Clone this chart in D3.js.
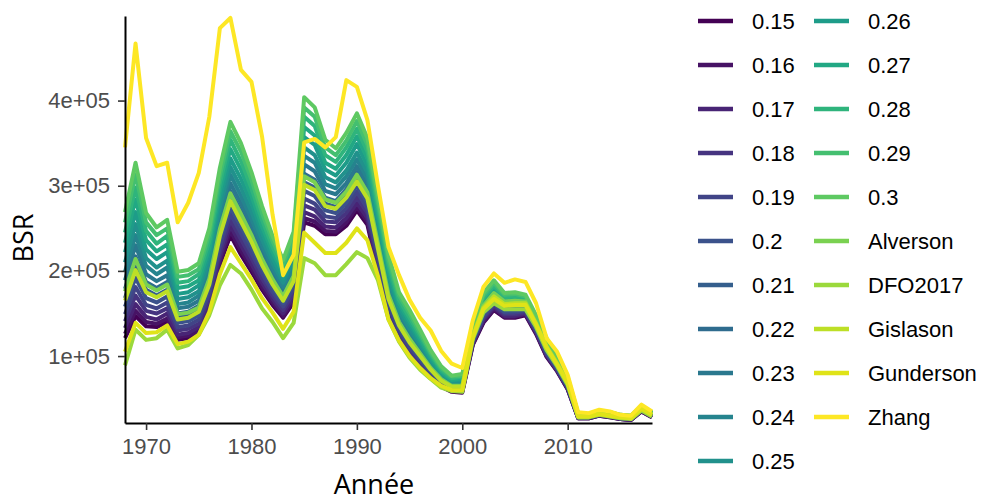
<!DOCTYPE html>
<html>
<head>
<meta charset="utf-8">
<script src="https://cdn.jsdelivr.net/npm/d3@7"></script>
<style>
  body { margin: 0; background: #fff; }
  svg text { font-family: "Liberation Sans", Arial, sans-serif; }
  .title { font-family: "Open Sans", sans-serif !important; }
</style>
</head>
<body>
<div id="chart"></div>
<script>
var years = d3.range(1968, 2019);

// BSR, in thousands, one array per M value (1968 .. 2018)
var m015 = [121,147,135,134,140,119,121,127,156,207, 242,219,199,178,160,145,163,257,253,243, 243,253,271,254,199,145,119,100,86,74, 64,58,57,113,139,154,145,145,148,126, 99,82,61,27,27,30,28,26,25,35, 28];
var m016 = [126,153,140,138,144,122,124,130,159,211, 247,224,203,181,163,147,166,262,258,247, 246,257,275,258,202,148,121,102,88,75, 65,59,58,114,140,155,146,146,149,127, 100,83,61,27,27,30,28,26,25,35, 28];
var m017 = [133,161,146,143,150,125,127,134,164,216, 253,230,208,186,167,150,170,269,264,252, 251,262,280,262,206,151,124,104,90,77, 66,60,59,115,142,157,147,147,150,128, 101,83,62,27,27,30,29,26,25,36, 29];
var m018 = [141,171,153,150,156,130,132,138,169,222, 260,237,215,191,171,154,174,277,272,258, 257,268,286,268,211,155,127,107,92,78, 67,61,60,116,144,159,149,149,151,129, 102,84,63,28,28,31,29,27,26,36, 29];
var m019 = [149,181,160,156,163,134,136,143,174,229, 267,244,221,197,175,158,179,285,279,264, 262,274,293,273,216,159,130,110,95,80, 69,62,61,117,146,161,151,151,153,130, 103,85,64,28,28,31,29,27,26,36, 29];
var m020 = [158,192,168,163,170,139,141,148,180,236, 275,252,228,203,180,162,184,294,288,271, 268,280,300,280,222,164,133,114,97,82, 70,63,63,118,148,163,152,153,154,132, 105,86,64,28,28,31,30,27,26,37, 30];
var m021 = [168,205,178,171,178,145,147,153,186,244, 285,261,236,209,186,167,190,304,298,279, 275,288,308,287,228,169,137,117,100,85, 72,64,64,120,150,165,154,155,156,133, 106,87,65,29,29,32,30,28,27,37, 30];
var m022 = [179,217,187,180,187,150,152,159,193,252, 294,270,245,216,192,172,195,314,307,286, 282,296,316,294,234,174,141,121,104,87, 73,65,66,121,153,168,156,157,157,135, 108,89,66,29,29,32,30,28,27,37, 30];
var m023 = [189,230,196,188,195,156,158,165,199,259, 303,279,253,223,197,176,201,325,317,294, 290,303,323,301,240,179,145,125,107,89, 75,67,67,123,155,170,158,159,159,136, 109,90,67,29,29,32,31,28,27,38, 31];
var m024 = [199,242,206,196,204,161,163,171,206,267, 313,288,261,230,203,181,207,335,327,302, 297,311,331,308,247,184,149,129,110,92, 77,68,69,124,158,173,160,161,161,138, 111,91,68,30,30,33,31,29,28,38, 31];
var m025 = [210,255,215,204,212,167,169,176,212,275, 322,298,269,237,209,186,213,345,336,310, 304,318,339,315,253,189,153,132,113,94, 78,69,70,126,160,175,162,163,162,139, 112,92,69,30,30,33,32,29,28,39, 32];
var m026 = [222,269,225,214,222,173,175,183,220,285, 332,308,279,245,215,191,219,357,348,319, 312,327,349,323,260,195,157,137,117,96, 80,71,72,127,163,178,165,165,164,141, 114,94,70,30,30,33,32,29,28,39, 32];
var m027 = [233,284,236,223,231,180,182,189,227,294, 343,319,288,252,222,197,226,369,359,327, 320,336,358,332,267,201,162,141,120,99, 82,72,74,129,166,181,167,168,166,143, 116,95,72,31,31,34,33,30,29,40, 33];
var m028 = [245,298,247,232,241,186,188,196,235,303, 354,329,297,260,228,202,233,381,370,336, 328,345,367,340,275,207,166,145,124,102, 84,74,76,131,168,183,169,170,168,145, 118,96,73,31,31,34,33,30,29,40, 33];
var m029 = [257,313,257,242,250,193,195,202,243,312, 364,340,307,268,235,208,239,392,381,345, 336,353,376,348,282,213,171,150,127,104, 86,76,77,132,171,186,172,173,170,146, 119,98,74,32,32,35,34,31,30,41, 34];
var m030 = [269,327,268,251,260,199,201,209,250,321, 375,350,316,276,241,213,246,404,392,354, 344,362,385,356,289,219,175,154,131,107, 88,77,79,134,174,189,174,175,172,148, 121,99,75,32,32,35,34,31,30,41, 34];

// BSR from the empirical M estimators
var alverson  = [176,214,184,177,184,149,151,157,191,249, 291,267,242,214,190,170,194,311,304,284, 280,293,313,292,232,172,140,120,103,86, 73,65,65,124,159,174,164,165,164,139, 112,92,70,30,30,33,31,29,28,39, 32];
var dfo2017   = [89,131,119,121,131,109,113,125,148,183, 207,197,178,156,140,121,139,215,209,195, 195,208,222,215,189,143,117,98,84,73, 63,59,58,120,151,162,155,155,155,134, 107,88,66,28,28,31,29,27,26,36, 29];
var gislason  = [165,201,175,169,176,143,145,152,184,241, 282,258,234,207,184,165,188,301,295,276, 273,286,305,285,226,167,136,116,100,84, 71,64,64,123,157,170,161,162,162,138, 111,91,69,29,29,32,30,28,27,38, 31];
var gunderson = [105,139,127,128,136,114,117,125,152,196, 228,209,190,168,151,132,152,245,233,221, 221,233,250,236,194,143,118,100,86,74, 65,60,60,122,155,167,159,160,160,137, 110,90,68,29,29,32,30,28,27,38, 31];
var zhang     = [345,467,356,323,327,257,280,315,381,485, 497,436,422,358,266,195,219,351,355,345, 357,424,416,377,300,228,195,166,145,130, 106,91,86,142,181,197,186,190,187,162, 121,105,78,34,33,37,35,31,30,43, 35];

var seriesNames = ["0.15","0.16","0.17","0.18","0.19","0.2","0.21","0.22","0.23","0.24","0.25",
                   "0.26","0.27","0.28","0.29","0.3","Alverson","DFO2017","Gislason","Gunderson","Zhang"];
var seriesValues = [m015,m016,m017,m018,m019,m020,m021,m022,m023,m024,m025,
                    m026,m027,m028,m029,m030,alverson,dfo2017,gislason,gunderson,zhang];

var xTicks = [1970, 1980, 1990, 2000, 2010];
var yTicks = [100, 200, 300, 400];
var yTickLabels = ["1e+05", "2e+05", "3e+05", "4e+05"];

var W = 982, H = 502;
var pLeft = 125, pRight = 652, pTop = 16, pBottom = 423;

var svg = d3.select("#chart").append("svg")
  .attr("width", W).attr("height", H);

var x = d3.scaleLinear().domain([1968, 2018]).range([pLeft, pRight]);
var y = d3.scaleLinear().domain([21.4, 499.3]).range([pBottom, pTop]);

var colour = d3.scaleOrdinal()
  .domain(seriesNames)
  .range(seriesNames.map(function(d, i) { return d3.interpolateViridis(i / (seriesNames.length - 1)); }));

var line = d3.line()
  .x(function(d, i) { return x(years[i]); })
  .y(function(d) { return y(d); });

var data = seriesNames.map(function(n, i) { return { name: n, values: seriesValues[i] }; });

svg.append("g").selectAll("path")
  .data(data)
  .enter().append("path")
  .attr("d", function(d) { return line(d.values); })
  .attr("fill", "none")
  .attr("stroke", function(d) { return colour(d.name); })
  .attr("stroke-width", 4)
  .attr("stroke-linejoin", "round");

// axes
var yAxis = svg.append("g")
  .attr("transform", "translate(" + pLeft + ",0)")
  .call(d3.axisLeft(y).tickValues(yTicks)
    .tickFormat(function(d, i) { return yTickLabels[i]; })
    .tickSize(7).tickSizeOuter(0).tickPadding(8));

var xAxis = svg.append("g")
  .attr("transform", "translate(0," + pBottom + ")")
  .call(d3.axisBottom(x).tickValues(xTicks)
    .tickFormat(d3.format("d"))
    .tickSize(7).tickSizeOuter(0).tickPadding(8));

[xAxis, yAxis].forEach(function(a) {
  a.select(".domain").attr("stroke", "#000").attr("stroke-width", 2);
  a.selectAll(".tick line").attr("stroke", "#333").attr("stroke-width", 1.6);
  a.selectAll(".tick text")
    .attr("fill", "#4d4d4d")
    .style("font-size", "22px")
    .style("font-family", "'Liberation Sans', Arial, sans-serif");
});

svg.append("text")
  .attr("class", "title")
  .attr("transform", "translate(33,238) rotate(-90)")
  .attr("text-anchor", "middle")
  .style("font-size", "27px")
  .text("BSR");

svg.append("text")
  .attr("class", "title")
  .attr("x", 374).attr("y", 494)
  .attr("text-anchor", "middle")
  .style("font-size", "27px")
  .text("Année");

// legend, filled by column
var nrow = 11, rowH = 44, legTop = 21;
var colX = [698, 814];

var key = svg.append("g").selectAll("g")
  .data(data)
  .enter().append("g")
  .attr("transform", function(d, i) {
    return "translate(" + colX[Math.floor(i / nrow)] + "," + (legTop + (i % nrow) * rowH) + ")";
  });

key.append("line")
  .attr("x1", 0).attr("x2", 35)
  .attr("stroke", function(d) { return colour(d.name); })
  .attr("stroke-width", 4.5);

key.append("text")
  .attr("x", 54)
  .attr("dy", "0.36em")
  .style("font-size", "22px")
  .attr("fill", "#000")
  .text(function(d) { return d.name; });
</script>
</body>
</html>
